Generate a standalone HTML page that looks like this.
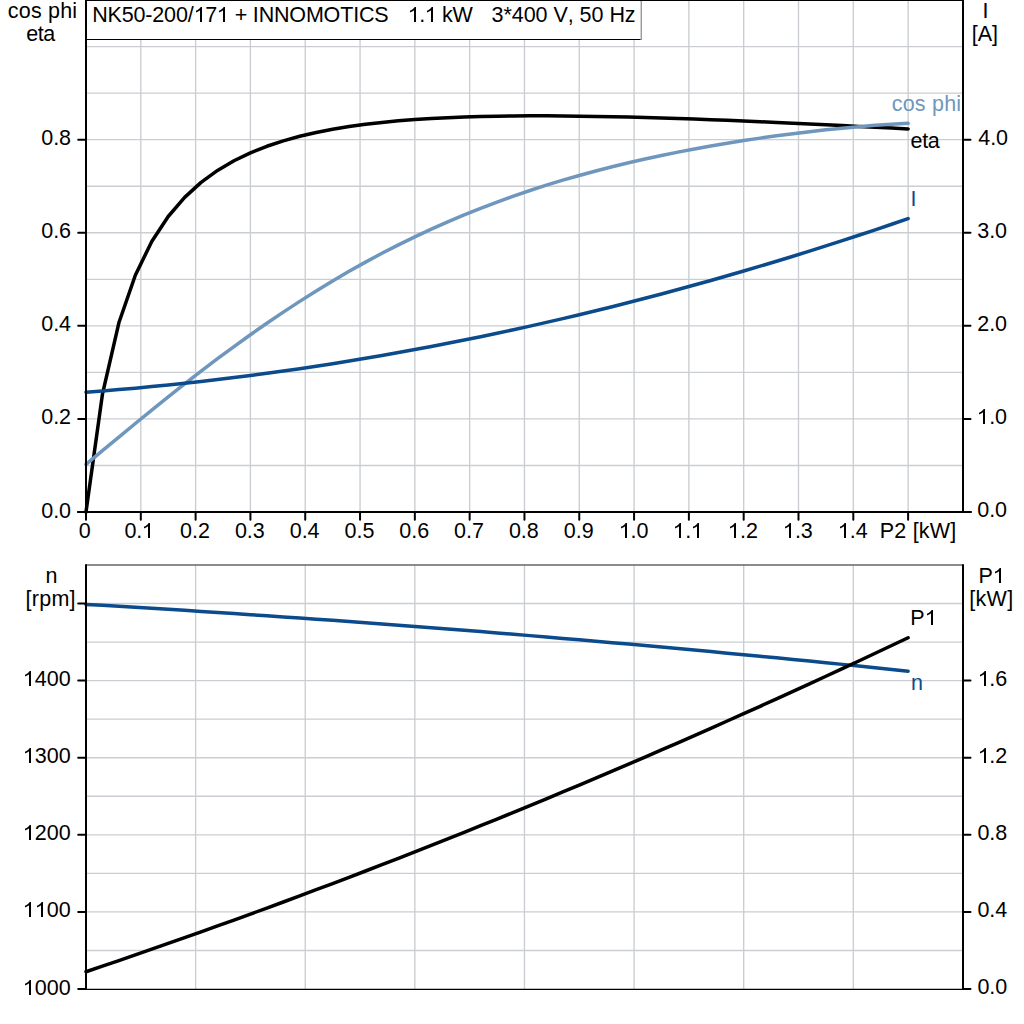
<!DOCTYPE html>
<html><head><meta charset="utf-8"><style>
html,body{margin:0;padding:0;background:#fff;width:1024px;height:1024px;overflow:hidden}
svg{display:block}
text{font-kerning:none}
</style></head><body>
<svg width="1024" height="1024" viewBox="0 0 1024 1024">
<rect width="1024" height="1024" fill="#fff"/>
<line x1="140.81" y1="0" x2="140.81" y2="512.00" stroke="#cacdd1" stroke-width="1.35"/>
<line x1="195.61" y1="0" x2="195.61" y2="512.00" stroke="#cacdd1" stroke-width="1.35"/>
<line x1="250.42" y1="0" x2="250.42" y2="512.00" stroke="#cacdd1" stroke-width="1.35"/>
<line x1="305.23" y1="0" x2="305.23" y2="512.00" stroke="#cacdd1" stroke-width="1.35"/>
<line x1="360.04" y1="0" x2="360.04" y2="512.00" stroke="#cacdd1" stroke-width="1.35"/>
<line x1="414.84" y1="0" x2="414.84" y2="512.00" stroke="#cacdd1" stroke-width="1.35"/>
<line x1="469.65" y1="0" x2="469.65" y2="512.00" stroke="#cacdd1" stroke-width="1.35"/>
<line x1="524.46" y1="0" x2="524.46" y2="512.00" stroke="#cacdd1" stroke-width="1.35"/>
<line x1="579.26" y1="0" x2="579.26" y2="512.00" stroke="#cacdd1" stroke-width="1.35"/>
<line x1="634.07" y1="0" x2="634.07" y2="512.00" stroke="#cacdd1" stroke-width="1.35"/>
<line x1="688.88" y1="0" x2="688.88" y2="512.00" stroke="#cacdd1" stroke-width="1.35"/>
<line x1="743.68" y1="0" x2="743.68" y2="512.00" stroke="#cacdd1" stroke-width="1.35"/>
<line x1="798.49" y1="0" x2="798.49" y2="512.00" stroke="#cacdd1" stroke-width="1.35"/>
<line x1="853.30" y1="0" x2="853.30" y2="512.00" stroke="#cacdd1" stroke-width="1.35"/>
<line x1="908.11" y1="0" x2="908.11" y2="512.00" stroke="#cacdd1" stroke-width="1.35"/>
<line x1="86" y1="465.46" x2="963" y2="465.46" stroke="#cacdd1" stroke-width="1.35"/>
<line x1="86" y1="418.92" x2="963" y2="418.92" stroke="#cacdd1" stroke-width="1.35"/>
<line x1="86" y1="372.38" x2="963" y2="372.38" stroke="#cacdd1" stroke-width="1.35"/>
<line x1="86" y1="325.84" x2="963" y2="325.84" stroke="#cacdd1" stroke-width="1.35"/>
<line x1="86" y1="279.30" x2="963" y2="279.30" stroke="#cacdd1" stroke-width="1.35"/>
<line x1="86" y1="232.76" x2="963" y2="232.76" stroke="#cacdd1" stroke-width="1.35"/>
<line x1="86" y1="186.22" x2="963" y2="186.22" stroke="#cacdd1" stroke-width="1.35"/>
<line x1="86" y1="139.68" x2="963" y2="139.68" stroke="#cacdd1" stroke-width="1.35"/>
<line x1="86" y1="93.14" x2="963" y2="93.14" stroke="#cacdd1" stroke-width="1.35"/>
<line x1="86" y1="46.60" x2="963" y2="46.60" stroke="#cacdd1" stroke-width="1.35"/>
<polyline points="86.00,512.00 102.44,394.19 118.88,322.79 135.33,275.22 151.77,241.48 168.21,216.49 184.65,197.38 201.09,182.40 217.54,170.45 233.98,160.76 250.42,152.83 266.86,146.28 283.31,140.83 299.75,136.28 316.19,132.46 332.63,129.25 349.07,126.55 365.52,124.30 381.96,122.41 398.40,120.84 414.84,119.56 431.28,118.51 447.73,117.67 464.17,117.02 480.61,116.53 497.05,116.18 513.49,115.97 529.94,115.86 546.38,115.87 562.82,115.96 579.26,116.13 595.71,116.38 612.15,116.70 628.59,117.08 645.03,117.51 661.47,117.99 677.92,118.52 694.36,119.09 710.80,119.70 727.24,120.34 743.68,121.01 760.13,121.71 776.57,122.44 793.01,123.18 809.45,123.95 825.89,124.75 842.34,125.55 858.78,126.38 875.22,127.22 891.66,128.07 908.11,128.93" fill="none" stroke="#000" stroke-width="3.5" stroke-linejoin="round" stroke-linecap="round"/>
<polyline points="86.00,464.34 102.44,450.66 118.88,437.03 135.33,423.50 151.77,410.11 168.21,396.90 184.65,383.91 201.09,371.18 217.54,358.72 233.98,346.56 250.42,334.73 266.86,323.24 283.31,312.11 299.75,301.35 316.19,290.96 332.63,280.96 349.07,271.35 365.52,262.14 381.96,253.31 398.40,244.87 414.84,236.81 431.28,229.13 447.73,221.82 464.17,214.88 480.61,208.28 497.05,202.03 513.49,196.11 529.94,190.50 546.38,185.20 562.82,180.19 579.26,175.45 595.71,170.98 612.15,166.76 628.59,162.78 645.03,159.02 661.47,155.48 677.92,152.13 694.36,148.98 710.80,146.01 727.24,143.21 743.68,140.58 760.13,138.11 776.57,135.80 793.01,133.64 809.45,131.64 825.89,129.81 842.34,128.14 858.78,126.64 875.22,125.32 891.66,124.21 908.11,123.30" fill="none" stroke="#6f97bd" stroke-width="3.5" stroke-linejoin="round" stroke-linecap="round"/>
<polyline points="86.00,392.21 102.44,390.95 118.88,389.60 135.33,388.15 151.77,386.61 168.21,384.98 184.65,383.26 201.09,381.45 217.54,379.54 233.98,377.55 250.42,375.46 266.86,373.28 283.31,371.01 299.75,368.65 316.19,366.19 332.63,363.65 349.07,361.02 365.52,358.29 381.96,355.48 398.40,352.58 414.84,349.58 431.28,346.50 447.73,343.32 464.17,340.06 480.61,336.71 497.05,333.27 513.49,329.73 529.94,326.12 546.38,322.41 562.82,318.61 579.26,314.72 595.71,310.75 612.15,306.69 628.59,302.54 645.03,298.30 661.47,293.97 677.92,289.56 694.36,285.06 710.80,280.47 727.24,275.79 743.68,271.03 760.13,266.18 776.57,261.25 793.01,256.22 809.45,251.11 825.89,245.92 842.34,240.64 858.78,235.27 875.22,229.81 891.66,224.27 908.11,218.65" fill="none" stroke="#0b4b8b" stroke-width="3.5" stroke-linejoin="round" stroke-linecap="round"/>
<rect x="86" y="0" width="555" height="39.5" fill="#fff"/>
<line x1="86" y1="39.5" x2="641" y2="39.5" stroke="#000" stroke-width="1"/>
<rect x="640" y="1" width="1" height="38.5" fill="#d2d2d2"/><rect x="641" y="1" width="1" height="39" fill="#9c9c9c"/>
<line x1="86" y1="0.5" x2="963" y2="0.5" stroke="#000" stroke-width="1"/>
<line x1="86" y1="0" x2="86" y2="512.00" stroke="#000" stroke-width="2"/>
<line x1="963" y1="0" x2="963" y2="512.00" stroke="#000" stroke-width="2"/>
<line x1="78" y1="512.00" x2="971" y2="512.00" stroke="#000" stroke-width="2" stroke-linecap="round"/>
<line x1="78.2" y1="512.00" x2="86" y2="512.00" stroke="#000" stroke-width="2" stroke-linecap="round"/>
<line x1="963" y1="512.00" x2="970.5" y2="512.00" stroke="#000" stroke-width="2" stroke-linecap="round"/>
<line x1="78.2" y1="418.92" x2="86" y2="418.92" stroke="#000" stroke-width="2" stroke-linecap="round"/>
<line x1="963" y1="418.92" x2="970.5" y2="418.92" stroke="#000" stroke-width="2" stroke-linecap="round"/>
<line x1="78.2" y1="325.84" x2="86" y2="325.84" stroke="#000" stroke-width="2" stroke-linecap="round"/>
<line x1="963" y1="325.84" x2="970.5" y2="325.84" stroke="#000" stroke-width="2" stroke-linecap="round"/>
<line x1="78.2" y1="232.76" x2="86" y2="232.76" stroke="#000" stroke-width="2" stroke-linecap="round"/>
<line x1="963" y1="232.76" x2="970.5" y2="232.76" stroke="#000" stroke-width="2" stroke-linecap="round"/>
<line x1="78.2" y1="139.68" x2="86" y2="139.68" stroke="#000" stroke-width="2" stroke-linecap="round"/>
<line x1="963" y1="139.68" x2="970.5" y2="139.68" stroke="#000" stroke-width="2" stroke-linecap="round"/>
<line x1="86.00" y1="512.00" x2="86.00" y2="519.7" stroke="#000" stroke-width="2" stroke-linecap="round"/>
<line x1="140.81" y1="512.00" x2="140.81" y2="519.7" stroke="#000" stroke-width="2" stroke-linecap="round"/>
<line x1="195.61" y1="512.00" x2="195.61" y2="519.7" stroke="#000" stroke-width="2" stroke-linecap="round"/>
<line x1="250.42" y1="512.00" x2="250.42" y2="519.7" stroke="#000" stroke-width="2" stroke-linecap="round"/>
<line x1="305.23" y1="512.00" x2="305.23" y2="519.7" stroke="#000" stroke-width="2" stroke-linecap="round"/>
<line x1="360.04" y1="512.00" x2="360.04" y2="519.7" stroke="#000" stroke-width="2" stroke-linecap="round"/>
<line x1="414.84" y1="512.00" x2="414.84" y2="519.7" stroke="#000" stroke-width="2" stroke-linecap="round"/>
<line x1="469.65" y1="512.00" x2="469.65" y2="519.7" stroke="#000" stroke-width="2" stroke-linecap="round"/>
<line x1="524.46" y1="512.00" x2="524.46" y2="519.7" stroke="#000" stroke-width="2" stroke-linecap="round"/>
<line x1="579.26" y1="512.00" x2="579.26" y2="519.7" stroke="#000" stroke-width="2" stroke-linecap="round"/>
<line x1="634.07" y1="512.00" x2="634.07" y2="519.7" stroke="#000" stroke-width="2" stroke-linecap="round"/>
<line x1="688.88" y1="512.00" x2="688.88" y2="519.7" stroke="#000" stroke-width="2" stroke-linecap="round"/>
<line x1="743.68" y1="512.00" x2="743.68" y2="519.7" stroke="#000" stroke-width="2" stroke-linecap="round"/>
<line x1="798.49" y1="512.00" x2="798.49" y2="519.7" stroke="#000" stroke-width="2" stroke-linecap="round"/>
<line x1="853.30" y1="512.00" x2="853.30" y2="519.7" stroke="#000" stroke-width="2" stroke-linecap="round"/>
<line x1="908.11" y1="512.00" x2="908.11" y2="519.7" stroke="#000" stroke-width="2" stroke-linecap="round"/>
<line x1="195.61" y1="565" x2="195.61" y2="989.00" stroke="#cacdd1" stroke-width="1.35"/>
<line x1="305.23" y1="565" x2="305.23" y2="989.00" stroke="#cacdd1" stroke-width="1.35"/>
<line x1="414.84" y1="565" x2="414.84" y2="989.00" stroke="#cacdd1" stroke-width="1.35"/>
<line x1="524.46" y1="565" x2="524.46" y2="989.00" stroke="#cacdd1" stroke-width="1.35"/>
<line x1="634.07" y1="565" x2="634.07" y2="989.00" stroke="#cacdd1" stroke-width="1.35"/>
<line x1="743.68" y1="565" x2="743.68" y2="989.00" stroke="#cacdd1" stroke-width="1.35"/>
<line x1="853.30" y1="565" x2="853.30" y2="989.00" stroke="#cacdd1" stroke-width="1.35"/>
<line x1="86" y1="950.45" x2="963" y2="950.45" stroke="#cacdd1" stroke-width="1.35"/>
<line x1="86" y1="911.90" x2="963" y2="911.90" stroke="#cacdd1" stroke-width="1.35"/>
<line x1="86" y1="873.35" x2="963" y2="873.35" stroke="#cacdd1" stroke-width="1.35"/>
<line x1="86" y1="834.80" x2="963" y2="834.80" stroke="#cacdd1" stroke-width="1.35"/>
<line x1="86" y1="796.25" x2="963" y2="796.25" stroke="#cacdd1" stroke-width="1.35"/>
<line x1="86" y1="757.70" x2="963" y2="757.70" stroke="#cacdd1" stroke-width="1.35"/>
<line x1="86" y1="719.15" x2="963" y2="719.15" stroke="#cacdd1" stroke-width="1.35"/>
<line x1="86" y1="680.60" x2="963" y2="680.60" stroke="#cacdd1" stroke-width="1.35"/>
<line x1="86" y1="642.05" x2="963" y2="642.05" stroke="#cacdd1" stroke-width="1.35"/>
<line x1="86" y1="603.50" x2="963" y2="603.50" stroke="#cacdd1" stroke-width="1.35"/>
<polyline points="86.00,604.39 102.44,605.34 118.88,606.31 135.33,607.30 151.77,608.30 168.21,609.32 184.65,610.36 201.09,611.40 217.54,612.47 233.98,613.55 250.42,614.64 266.86,615.75 283.31,616.88 299.75,618.02 316.19,619.18 332.63,620.35 349.07,621.54 365.52,622.74 381.96,623.96 398.40,625.20 414.84,626.45 431.28,627.71 447.73,629.00 464.17,630.29 480.61,631.60 497.05,632.93 513.49,634.27 529.94,635.63 546.38,637.01 562.82,638.40 579.26,639.80 595.71,641.22 612.15,642.66 628.59,644.11 645.03,645.57 661.47,647.06 677.92,648.55 694.36,650.07 710.80,651.60 727.24,653.14 743.68,654.70 760.13,656.27 776.57,657.86 793.01,659.47 809.45,661.09 825.89,662.73 842.34,664.38 858.78,666.05 875.22,667.73 891.66,669.43 908.11,671.14" fill="none" stroke="#0b4b8b" stroke-width="3.5" stroke-linejoin="round" stroke-linecap="round"/>
<polyline points="86.00,971.72 102.44,966.16 118.88,960.55 135.33,954.90 151.77,949.21 168.21,943.47 184.65,937.68 201.09,931.85 217.54,925.97 233.98,920.04 250.42,914.07 266.86,908.06 283.31,901.99 299.75,895.89 316.19,889.73 332.63,883.53 349.07,877.29 365.52,871.00 381.96,864.66 398.40,858.28 414.84,851.85 431.28,845.38 447.73,838.86 464.17,832.29 480.61,825.68 497.05,819.02 513.49,812.32 529.94,805.57 546.38,798.78 562.82,791.94 579.26,785.05 595.71,778.12 612.15,771.15 628.59,764.12 645.03,757.05 661.47,749.94 677.92,742.78 694.36,735.57 710.80,728.32 727.24,721.02 743.68,713.68 760.13,706.29 776.57,698.86 793.01,691.38 809.45,683.85 825.89,676.28 842.34,668.66 858.78,661.00 875.22,653.29 891.66,645.53 908.11,637.73" fill="none" stroke="#000" stroke-width="3.5" stroke-linejoin="round" stroke-linecap="round"/>
<line x1="86" y1="565" x2="963" y2="565" stroke="#646468" stroke-width="1.5"/>
<line x1="86" y1="564.2" x2="86" y2="989.00" stroke="#000" stroke-width="2"/>
<line x1="963" y1="564.2" x2="963" y2="989.00" stroke="#000" stroke-width="2"/>
<line x1="86" y1="989.40" x2="963" y2="989.40" stroke="#000" stroke-width="1.2"/>
<line x1="78.2" y1="989.00" x2="86" y2="989.00" stroke="#000" stroke-width="2" stroke-linecap="round"/>
<line x1="78.2" y1="911.90" x2="86" y2="911.90" stroke="#000" stroke-width="2" stroke-linecap="round"/>
<line x1="78.2" y1="834.80" x2="86" y2="834.80" stroke="#000" stroke-width="2" stroke-linecap="round"/>
<line x1="78.2" y1="757.70" x2="86" y2="757.70" stroke="#000" stroke-width="2" stroke-linecap="round"/>
<line x1="78.2" y1="680.60" x2="86" y2="680.60" stroke="#000" stroke-width="2" stroke-linecap="round"/>
<line x1="78.2" y1="603.50" x2="86" y2="603.50" stroke="#000" stroke-width="2" stroke-linecap="round"/>
<line x1="963" y1="989.00" x2="970.5" y2="989.00" stroke="#000" stroke-width="2" stroke-linecap="round"/>
<line x1="963" y1="911.90" x2="970.5" y2="911.90" stroke="#000" stroke-width="2" stroke-linecap="round"/>
<line x1="963" y1="834.80" x2="970.5" y2="834.80" stroke="#000" stroke-width="2" stroke-linecap="round"/>
<line x1="963" y1="757.70" x2="970.5" y2="757.70" stroke="#000" stroke-width="2" stroke-linecap="round"/>
<line x1="963" y1="680.60" x2="970.5" y2="680.60" stroke="#000" stroke-width="2" stroke-linecap="round"/>
<g font-family="Liberation Sans" font-size="21.5"><text id="t0" x="92.25" y="22" fill="#000" textLength="296.38" lengthAdjust="spacing">NK50-200/ 7  + INNOMOTICS</text>
<text id="t1" x="407.70" y="22" fill="#000" textLength="65.01" lengthAdjust="spacing"> .  kW</text>
<text id="t2" x="491.50" y="22" fill="#000" textLength="144.12" lengthAdjust="spacing">3*400 V, 50 Hz</text>
<text id="t3" x="7.80" y="18" fill="#000" textLength="69.33" lengthAdjust="spacing">cos phi</text>
<text id="t4" x="26.20" y="41" fill="#000" textLength="29.09" lengthAdjust="spacing">eta</text>
<text id="t5" x="982.60" y="18" fill="#000">I</text>
<text id="t6" x="971.80" y="41" fill="#000">[A]</text>
<text id="t7" x="41.20" y="518" fill="#000">0.0</text>
<text id="t8" x="41.20" y="424" fill="#000">0.2</text>
<text id="t9" x="41.20" y="331" fill="#000">0.4</text>
<text id="t10" x="41.20" y="238" fill="#000">0.6</text>
<text id="t11" x="41.20" y="145" fill="#000">0.8</text>
<text id="t12" x="977.20" y="517" fill="#000">0.0</text>
<text id="t13" x="977.20" y="424" fill="#000"> .0</text>
<text id="t14" x="977.20" y="331" fill="#000">2.0</text>
<text id="t15" x="977.20" y="238" fill="#000">3.0</text>
<text id="t16" x="978.20" y="145" fill="#000">4.0</text>
<text id="t17" x="78.72" y="538" fill="#000">0</text>
<text id="t18" x="124.41" y="538" fill="#000">0. </text>
<text id="t19" x="180.07" y="538" fill="#000">0.2</text>
<text id="t20" x="234.88" y="538" fill="#000">0.3</text>
<text id="t21" x="289.68" y="538" fill="#000">0.4</text>
<text id="t22" x="344.49" y="538" fill="#000">0.5</text>
<text id="t23" x="399.30" y="538" fill="#000">0.6</text>
<text id="t24" x="454.10" y="538" fill="#000">0.7</text>
<text id="t25" x="508.91" y="538" fill="#000">0.8</text>
<text id="t26" x="563.72" y="538" fill="#000">0.9</text>
<text id="t27" x="618.52" y="538" fill="#000"> .0</text>
<text id="t28" x="673.33" y="538" fill="#000"> . </text>
<text id="t29" x="728.14" y="538" fill="#000"> .2</text>
<text id="t30" x="782.95" y="538" fill="#000"> .3</text>
<text id="t31" x="837.75" y="538" fill="#000"> .4</text>
<text id="t32" x="879.80" y="538" fill="#000" textLength="76.47" lengthAdjust="spacing">P2 [kW]</text>
<text id="t33" x="891.70" y="111" fill="#6f97bd" textLength="69.42" lengthAdjust="spacing">cos phi</text>
<text id="t34" x="910.60" y="148" fill="#000" textLength="29.09" lengthAdjust="spacing">eta</text>
<text id="t35" x="910.50" y="206" fill="#0b4b8b">I</text>
<text id="t36" x="45.50" y="583" fill="#000">n</text>
<text id="t37" x="25.40" y="606" fill="#000" textLength="50.18" lengthAdjust="spacing">[rpm]</text>
<text id="t38" x="22.60" y="995" fill="#000" textLength="48.24" lengthAdjust="spacing"> 000</text>
<text id="t39" x="22.60" y="917" fill="#000" textLength="48.24" lengthAdjust="spacing">  00</text>
<text id="t40" x="22.60" y="840" fill="#000" textLength="48.24" lengthAdjust="spacing"> 200</text>
<text id="t41" x="22.60" y="763" fill="#000" textLength="48.24" lengthAdjust="spacing"> 300</text>
<text id="t42" x="22.60" y="686" fill="#000" textLength="48.24" lengthAdjust="spacing"> 400</text>
<text id="t43" x="978.40" y="583" fill="#000">P </text>
<text id="t44" x="969.20" y="606" fill="#000" textLength="44.00" lengthAdjust="spacing">[kW]</text>
<text id="t45" x="977.40" y="994" fill="#000">0.0</text>
<text id="t46" x="977.40" y="917" fill="#000">0.4</text>
<text id="t47" x="977.40" y="840" fill="#000">0.8</text>
<text id="t48" x="977.40" y="763" fill="#000"> .2</text>
<text id="t49" x="977.40" y="686" fill="#000"> .6</text>
<text id="t50" x="910.20" y="625" fill="#000">P </text>
<text id="t51" x="911.00" y="690" fill="#0b4b8b">n</text></g>
<path transform="translate(193.522,22) scale(22.753,20.868)" d="M0.3726,0 L0.2847,0 L0.2847,-0.5601 Q0.2529,-0.5298 0.2014,-0.4995 Q0.1499,-0.4692 0.1089,-0.4541 L0.1089,-0.5391 Q0.1826,-0.5737 0.2371,-0.6223 Q0.2915,-0.6709 0.3159,-0.7188 L0.3726,-0.7188 Z" fill="#000"/>
<path transform="translate(216.522,22) scale(22.753,20.868)" d="M0.3726,0 L0.2847,0 L0.2847,-0.5601 Q0.2529,-0.5298 0.2014,-0.4995 Q0.1499,-0.4692 0.1089,-0.4541 L0.1089,-0.5391 Q0.1826,-0.5737 0.2371,-0.6223 Q0.2915,-0.6709 0.3159,-0.7188 L0.3726,-0.7188 Z" fill="#000"/>
<path transform="translate(407.522,22) scale(22.753,20.868)" d="M0.3726,0 L0.2847,0 L0.2847,-0.5601 Q0.2529,-0.5298 0.2014,-0.4995 Q0.1499,-0.4692 0.1089,-0.4541 L0.1089,-0.5391 Q0.1826,-0.5737 0.2371,-0.6223 Q0.2915,-0.6709 0.3159,-0.7188 L0.3726,-0.7188 Z" fill="#000"/>
<path transform="translate(424.522,22) scale(22.753,20.868)" d="M0.3726,0 L0.2847,0 L0.2847,-0.5601 Q0.2529,-0.5298 0.2014,-0.4995 Q0.1499,-0.4692 0.1089,-0.4541 L0.1089,-0.5391 Q0.1826,-0.5737 0.2371,-0.6223 Q0.2915,-0.6709 0.3159,-0.7188 L0.3726,-0.7188 Z" fill="#000"/>
<path transform="translate(976.522,424) scale(22.753,20.868)" d="M0.3726,0 L0.2847,0 L0.2847,-0.5601 Q0.2529,-0.5298 0.2014,-0.4995 Q0.1499,-0.4692 0.1089,-0.4541 L0.1089,-0.5391 Q0.1826,-0.5737 0.2371,-0.6223 Q0.2915,-0.6709 0.3159,-0.7188 L0.3726,-0.7188 Z" fill="#000"/>
<path transform="translate(141.522,538) scale(22.753,20.868)" d="M0.3726,0 L0.2847,0 L0.2847,-0.5601 Q0.2529,-0.5298 0.2014,-0.4995 Q0.1499,-0.4692 0.1089,-0.4541 L0.1089,-0.5391 Q0.1826,-0.5737 0.2371,-0.6223 Q0.2915,-0.6709 0.3159,-0.7188 L0.3726,-0.7188 Z" fill="#000"/>
<path transform="translate(618.522,538) scale(22.753,20.868)" d="M0.3726,0 L0.2847,0 L0.2847,-0.5601 Q0.2529,-0.5298 0.2014,-0.4995 Q0.1499,-0.4692 0.1089,-0.4541 L0.1089,-0.5391 Q0.1826,-0.5737 0.2371,-0.6223 Q0.2915,-0.6709 0.3159,-0.7188 L0.3726,-0.7188 Z" fill="#000"/>
<path transform="translate(672.522,538) scale(22.753,20.868)" d="M0.3726,0 L0.2847,0 L0.2847,-0.5601 Q0.2529,-0.5298 0.2014,-0.4995 Q0.1499,-0.4692 0.1089,-0.4541 L0.1089,-0.5391 Q0.1826,-0.5737 0.2371,-0.6223 Q0.2915,-0.6709 0.3159,-0.7188 L0.3726,-0.7188 Z" fill="#000"/>
<path transform="translate(690.522,538) scale(22.753,20.868)" d="M0.3726,0 L0.2847,0 L0.2847,-0.5601 Q0.2529,-0.5298 0.2014,-0.4995 Q0.1499,-0.4692 0.1089,-0.4541 L0.1089,-0.5391 Q0.1826,-0.5737 0.2371,-0.6223 Q0.2915,-0.6709 0.3159,-0.7188 L0.3726,-0.7188 Z" fill="#000"/>
<path transform="translate(727.522,538) scale(22.753,20.868)" d="M0.3726,0 L0.2847,0 L0.2847,-0.5601 Q0.2529,-0.5298 0.2014,-0.4995 Q0.1499,-0.4692 0.1089,-0.4541 L0.1089,-0.5391 Q0.1826,-0.5737 0.2371,-0.6223 Q0.2915,-0.6709 0.3159,-0.7188 L0.3726,-0.7188 Z" fill="#000"/>
<path transform="translate(782.522,538) scale(22.753,20.868)" d="M0.3726,0 L0.2847,0 L0.2847,-0.5601 Q0.2529,-0.5298 0.2014,-0.4995 Q0.1499,-0.4692 0.1089,-0.4541 L0.1089,-0.5391 Q0.1826,-0.5737 0.2371,-0.6223 Q0.2915,-0.6709 0.3159,-0.7188 L0.3726,-0.7188 Z" fill="#000"/>
<path transform="translate(837.522,538) scale(22.753,20.868)" d="M0.3726,0 L0.2847,0 L0.2847,-0.5601 Q0.2529,-0.5298 0.2014,-0.4995 Q0.1499,-0.4692 0.1089,-0.4541 L0.1089,-0.5391 Q0.1826,-0.5737 0.2371,-0.6223 Q0.2915,-0.6709 0.3159,-0.7188 L0.3726,-0.7188 Z" fill="#000"/>
<path transform="translate(22.522,995) scale(22.753,20.868)" d="M0.3726,0 L0.2847,0 L0.2847,-0.5601 Q0.2529,-0.5298 0.2014,-0.4995 Q0.1499,-0.4692 0.1089,-0.4541 L0.1089,-0.5391 Q0.1826,-0.5737 0.2371,-0.6223 Q0.2915,-0.6709 0.3159,-0.7188 L0.3726,-0.7188 Z" fill="#000"/>
<path transform="translate(22.522,917) scale(22.753,20.868)" d="M0.3726,0 L0.2847,0 L0.2847,-0.5601 Q0.2529,-0.5298 0.2014,-0.4995 Q0.1499,-0.4692 0.1089,-0.4541 L0.1089,-0.5391 Q0.1826,-0.5737 0.2371,-0.6223 Q0.2915,-0.6709 0.3159,-0.7188 L0.3726,-0.7188 Z" fill="#000"/>
<path transform="translate(34.522,917) scale(22.753,20.868)" d="M0.3726,0 L0.2847,0 L0.2847,-0.5601 Q0.2529,-0.5298 0.2014,-0.4995 Q0.1499,-0.4692 0.1089,-0.4541 L0.1089,-0.5391 Q0.1826,-0.5737 0.2371,-0.6223 Q0.2915,-0.6709 0.3159,-0.7188 L0.3726,-0.7188 Z" fill="#000"/>
<path transform="translate(22.522,840) scale(22.753,20.868)" d="M0.3726,0 L0.2847,0 L0.2847,-0.5601 Q0.2529,-0.5298 0.2014,-0.4995 Q0.1499,-0.4692 0.1089,-0.4541 L0.1089,-0.5391 Q0.1826,-0.5737 0.2371,-0.6223 Q0.2915,-0.6709 0.3159,-0.7188 L0.3726,-0.7188 Z" fill="#000"/>
<path transform="translate(22.522,763) scale(22.753,20.868)" d="M0.3726,0 L0.2847,0 L0.2847,-0.5601 Q0.2529,-0.5298 0.2014,-0.4995 Q0.1499,-0.4692 0.1089,-0.4541 L0.1089,-0.5391 Q0.1826,-0.5737 0.2371,-0.6223 Q0.2915,-0.6709 0.3159,-0.7188 L0.3726,-0.7188 Z" fill="#000"/>
<path transform="translate(22.522,686) scale(22.753,20.868)" d="M0.3726,0 L0.2847,0 L0.2847,-0.5601 Q0.2529,-0.5298 0.2014,-0.4995 Q0.1499,-0.4692 0.1089,-0.4541 L0.1089,-0.5391 Q0.1826,-0.5737 0.2371,-0.6223 Q0.2915,-0.6709 0.3159,-0.7188 L0.3726,-0.7188 Z" fill="#000"/>
<path transform="translate(992.522,583) scale(22.753,20.868)" d="M0.3726,0 L0.2847,0 L0.2847,-0.5601 Q0.2529,-0.5298 0.2014,-0.4995 Q0.1499,-0.4692 0.1089,-0.4541 L0.1089,-0.5391 Q0.1826,-0.5737 0.2371,-0.6223 Q0.2915,-0.6709 0.3159,-0.7188 L0.3726,-0.7188 Z" fill="#000"/>
<path transform="translate(977.522,763) scale(22.753,20.868)" d="M0.3726,0 L0.2847,0 L0.2847,-0.5601 Q0.2529,-0.5298 0.2014,-0.4995 Q0.1499,-0.4692 0.1089,-0.4541 L0.1089,-0.5391 Q0.1826,-0.5737 0.2371,-0.6223 Q0.2915,-0.6709 0.3159,-0.7188 L0.3726,-0.7188 Z" fill="#000"/>
<path transform="translate(977.522,686) scale(22.753,20.868)" d="M0.3726,0 L0.2847,0 L0.2847,-0.5601 Q0.2529,-0.5298 0.2014,-0.4995 Q0.1499,-0.4692 0.1089,-0.4541 L0.1089,-0.5391 Q0.1826,-0.5737 0.2371,-0.6223 Q0.2915,-0.6709 0.3159,-0.7188 L0.3726,-0.7188 Z" fill="#000"/>
<path transform="translate(924.522,625) scale(22.753,20.868)" d="M0.3726,0 L0.2847,0 L0.2847,-0.5601 Q0.2529,-0.5298 0.2014,-0.4995 Q0.1499,-0.4692 0.1089,-0.4541 L0.1089,-0.5391 Q0.1826,-0.5737 0.2371,-0.6223 Q0.2915,-0.6709 0.3159,-0.7188 L0.3726,-0.7188 Z" fill="#000"/>
</svg>
</body></html>
